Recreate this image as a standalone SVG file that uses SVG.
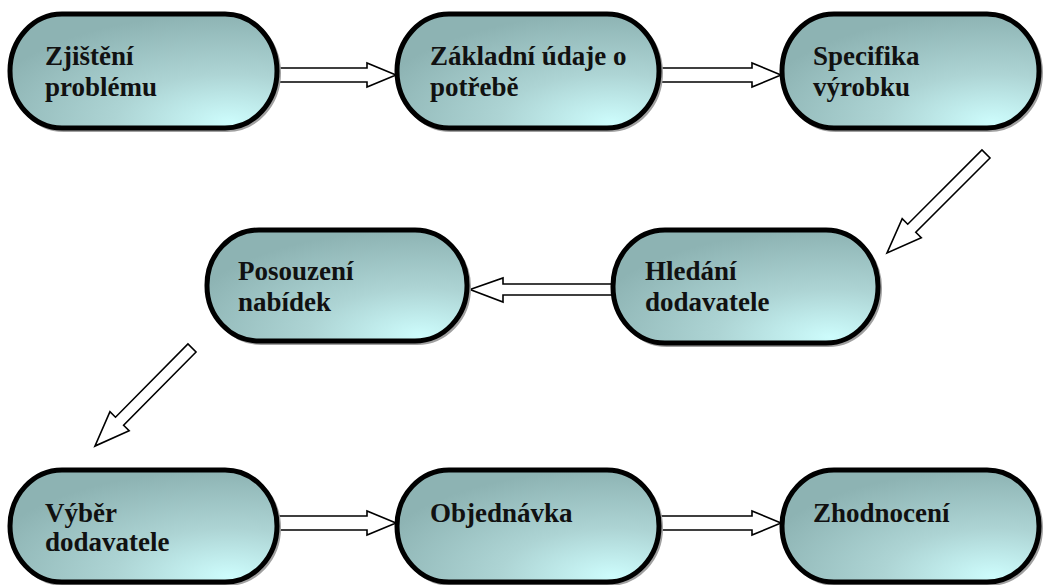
<svg xmlns="http://www.w3.org/2000/svg" width="1045" height="585" viewBox="0 0 1045 585">
  <defs>
    <radialGradient id="fill" cx="0.82" cy="0.95" r="0.95" fx="0.82" fy="0.95">
      <stop offset="0" stop-color="#cdfcfc"/>
      <stop offset="0.45" stop-color="#add4d4"/>
      <stop offset="1" stop-color="#8db3b3"/>
    </radialGradient>
  </defs>
  <style>
    .node rect.body { fill: url(#fill); stroke: #000; stroke-width: 5; }
    .node rect.shadow { fill: none; stroke: #a0a0a0; stroke-width: 4; }
    .node text { font-family: "Liberation Serif", "Times New Roman", serif; font-weight: bold; font-size: 27px; fill: #111; }
    .conn path { fill: #fff; stroke: #000; stroke-width: 1.6; stroke-linejoin: miter; }
  </style>
  <rect width="1045" height="585" fill="#fff"/>

  <g id="connectors" class="conn">
    <path d="M268,68 H367 V63 L396,75 L367,87 V82 H268 Z"/>
    <path d="M650,68 H752 V63 L781,75 L752,87 V82 H650 Z"/>
    <path transform="translate(986,154) rotate(135)" d="M0,-5.7 H105 V-13.5 L140,0 L105,13.5 V5.7 H0 Z"/>
    <path d="M622,284 H503 V278 L470,289.5 L503,302 V295 H622 Z"/>
    <path transform="translate(192,348) rotate(134.7)" d="M0,-5.7 H103 V-13.5 L138,0 L103,13.5 V5.7 H0 Z"/>
    <path d="M268,516 H367 V511 L396,523 L367,535 V530 H268 Z"/>
    <path d="M650,516 H752 V511 L781,523 L752,535 V530 H650 Z"/>
  </g>

  <g id="n1" class="node">
    <rect class="shadow" x="12" y="16" width="267" height="114" rx="52" ry="57"/>
    <rect class="body" x="10" y="14" width="267" height="114" rx="52" ry="57"/>
    <text x="45" y="65">Zjištění</text>
    <text x="45" y="96">problému</text>
  </g>
  <g id="n2" class="node">
    <rect class="shadow" x="399" y="16" width="262" height="114" rx="52" ry="57"/>
    <rect class="body" x="397" y="14" width="262" height="114" rx="52" ry="57"/>
    <text x="430" y="65">Základní údaje o</text>
    <text x="430" y="96">potřebě</text>
  </g>
  <g id="n3" class="node">
    <rect class="shadow" x="784" y="16" width="257" height="114" rx="52" ry="57"/>
    <rect class="body" x="782" y="14" width="257" height="114" rx="52" ry="57"/>
    <text x="813" y="65">Specifika</text>
    <text x="813" y="96">výrobku</text>
  </g>
  <g id="n4" class="node">
    <rect class="shadow" x="615" y="232" width="265" height="113" rx="52" ry="56"/>
    <rect class="body" x="613" y="230" width="265" height="113" rx="52" ry="56"/>
    <text x="645" y="280">Hledání</text>
    <text x="645" y="311">dodavatele</text>
  </g>
  <g id="n5" class="node">
    <rect class="shadow" x="209" y="232" width="260" height="111" rx="52" ry="55"/>
    <rect class="body" x="207" y="230" width="260" height="111" rx="52" ry="55"/>
    <text x="238" y="280">Posouzení</text>
    <text x="238" y="311">nabídek</text>
  </g>
  <g id="n6" class="node">
    <rect class="shadow" x="12" y="472" width="267" height="112" rx="52" ry="56"/>
    <rect class="body" x="10" y="470" width="267" height="112" rx="52" ry="56"/>
    <text x="45" y="522">Výběr</text>
    <text x="45" y="551">dodavatele</text>
  </g>
  <g id="n7" class="node">
    <rect class="shadow" x="399" y="472" width="262" height="112" rx="52" ry="56"/>
    <rect class="body" x="397" y="470" width="262" height="112" rx="52" ry="56"/>
    <text x="430" y="522">Objednávka</text>
  </g>
  <g id="n8" class="node">
    <rect class="shadow" x="784" y="472" width="257" height="112" rx="52" ry="56"/>
    <rect class="body" x="782" y="470" width="257" height="112" rx="52" ry="56"/>
    <text x="813" y="522">Zhodnocení</text>
  </g>
</svg>
